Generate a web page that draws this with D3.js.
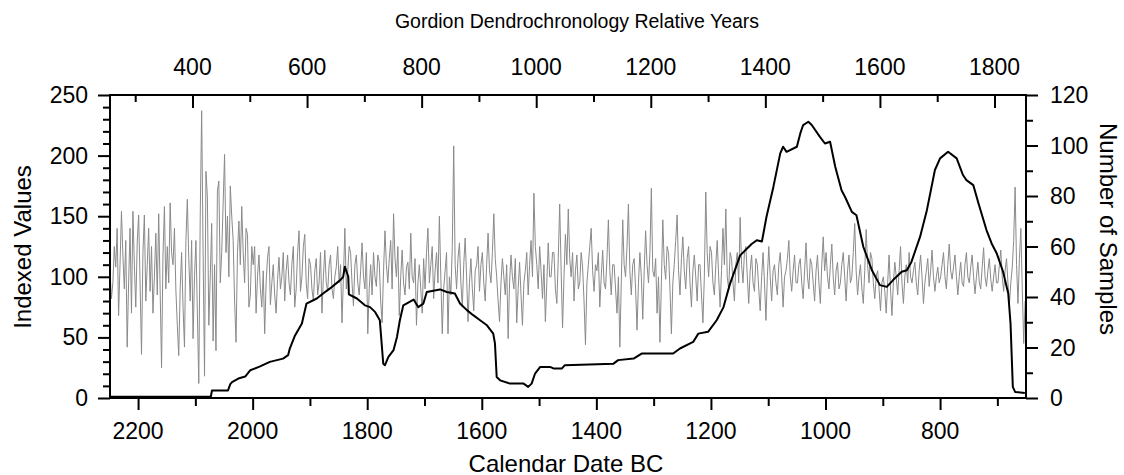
<!DOCTYPE html>
<html>
<head>
<meta charset="utf-8">
<script src="https://cdn.jsdelivr.net/npm/d3@7"></script>
<style>
  html, body { margin: 0; padding: 0; background: #fff; overflow: hidden; }
  svg { display: block; }
  .axis line { stroke: #000; stroke-width: 2; }
  .axis path { display: none; }
  .frame { fill: none; stroke: #000; stroke-width: 2; }
  .index-line { fill: none; stroke: #8a8a8a; stroke-width: 1; }
  .sample-line { fill: none; stroke: #000; stroke-width: 2; stroke-linejoin: round; }
</style>
</head>
<body>
<div id="chart"></div>
<script>
// Chart data
// Ring-width index, one value every 2.5 years starting 2249 BC
const indexStartYear = 2249;
const indexStepYears = 2.5;
const indexValues = [
  105, 82, 95, 125, 108, 140, 68, 110, 154, 118, 90, 130, 42, 95, 140, 70, 154, 110, 75, 128,
  151, 95, 36, 120, 151, 80, 110, 140, 88, 125, 70, 100, 136, 85, 152, 90, 25, 118, 158, 90,
  125, 95, 161, 120, 110, 140, 89, 60, 35, 90, 120, 75, 42, 130, 164, 115, 80, 130, 49, 100,
  130, 70, 12, 150, 237, 120, 18, 187, 166, 60, 100, 144, 47, 110, 39, 171, 179, 95, 120, 160,
  201, 120, 150, 100, 175, 150, 130, 80, 46, 120, 146, 110, 158, 120, 95, 140, 135, 75, 85, 125,
  110, 125, 70, 100, 118, 90, 75, 105, 53, 95, 116, 125, 77, 95, 110, 85, 70, 98, 116, 90,
  100, 120, 80, 105, 118, 95, 85, 110, 125, 75, 90, 120, 138, 88, 100, 125, 135, 95, 82, 115,
  110, 90, 80, 105, 115, 85, 95, 120, 70, 100, 122, 95, 88, 110, 118, 90, 82, 100, 108, 125,
  95, 110, 62, 100, 140, 90, 105, 125, 120, 95, 76, 110, 118, 95, 85, 105, 128, 100, 90, 120,
  53, 90, 110, 85, 120, 100, 92, 118, 112, 80, 62, 105, 138, 110, 95, 115, 130, 90, 152, 115,
  100, 125, 68, 100, 122, 95, 85, 108, 112, 90, 136, 100, 95, 115, 60, 95, 110, 90, 70, 115,
  90, 120, 140, 95, 110, 125, 82, 105, 120, 95, 150, 100, 53, 90, 105, 120, 53, 100, 85, 125,
  208, 110, 90, 115, 128, 95, 75, 110, 132, 100, 63, 95, 115, 90, 72, 105, 110, 125, 88, 110,
  120, 95, 80, 110, 136, 105, 95, 120, 152, 115, 100, 80, 63, 95, 115, 100, 85, 110, 49, 95,
  118, 100, 90, 115, 62, 90, 112, 85, 60, 95, 105, 120, 85, 110, 130, 100, 169, 125, 110, 90,
  125, 105, 82, 110, 63, 95, 128, 100, 100, 120, 120, 90, 78, 115, 160, 105, 58, 100, 135, 110,
  156, 115, 100, 120, 80, 105, 118, 90, 95, 120, 108, 80, 44, 95, 110, 125, 140, 105, 88, 110,
  105, 120, 75, 100, 122, 95, 90, 115, 147, 105, 85, 110, 110, 90, 70, 100, 42, 95, 147, 110,
  100, 125, 160, 105, 85, 110, 115, 90, 56, 95, 120, 100, 65, 105, 138, 110, 95, 120, 173, 105,
  100, 115, 70, 100, 46, 95, 147, 110, 98, 125, 120, 90, 53, 95, 110, 130, 151, 105, 85, 115,
  133, 105, 90, 115, 125, 95, 75, 105, 118, 100, 80, 110, 110, 85, 62, 100, 170, 120, 100, 125,
  120, 95, 85, 110, 130, 100, 75, 105, 140, 110, 156, 100, 90, 120, 115, 95, 80, 110, 120, 95,
  149, 110, 95, 120, 125, 100, 78, 105, 118, 95, 88, 115, 110, 90, 72, 100, 120, 95, 64, 100,
  125, 100, 80, 105, 110, 95, 85, 110, 120, 100, 75, 100, 105, 115, 130, 100, 88, 105, 118, 95,
  95, 110, 115, 95, 82, 105, 128, 100, 90, 115, 110, 95, 80, 105, 118, 95, 78, 110, 133, 105,
  120, 100, 90, 110, 127, 100, 85, 105, 112, 90, 95, 110, 120, 100, 80, 105, 118, 95, 100, 120,
  144, 105, 85, 100, 110, 90, 78, 105, 139, 110, 95, 120, 115, 95, 82, 100, 105, 90, 72, 95,
  100, 88, 70, 95, 118, 90, 68, 95, 112, 100, 85, 105, 125, 95, 78, 100, 110, 95, 120, 100,
  95, 105, 112, 95, 85, 105, 118, 100, 78, 95, 105, 115, 92, 105, 122, 100, 88, 100, 108, 95,
  100, 110, 120, 100, 90, 110, 127, 105, 98, 108, 118, 100, 85, 100, 112, 95, 92, 110, 120, 100,
  95, 108, 118, 100, 86, 100, 112, 95, 90, 108, 124, 100, 92, 105, 115, 98, 88, 100, 110, 95,
  95, 110, 122, 100, 88, 105, 115, 95, 77, 95, 108, 130, 174, 110, 78, 115, 140, 90, 45, 80
];

// Sample depth (number of samples) at break points
const sampleYears = [
  2249, 2073, 2071, 2043, 2039, 2036, 2025, 2013, 2004, 1987,
  1970, 1947, 1938, 1935, 1926, 1914, 1906, 1888, 1877, 1865,
  1853, 1847, 1842, 1839, 1833, 1832, 1818, 1804, 1795, 1786,
  1778, 1772, 1769, 1763, 1754, 1748, 1743, 1737, 1719, 1711,
  1702, 1696, 1673, 1661, 1647, 1638, 1626, 1615, 1603, 1591,
  1580, 1577, 1574, 1568, 1551, 1527, 1519, 1513, 1507, 1498,
  1481, 1475, 1460, 1455, 1370, 1362, 1335, 1321, 1266, 1254,
  1231, 1222, 1205, 1190, 1178, 1167, 1149, 1129, 1120, 1111,
  1103, 1091, 1079, 1074, 1068, 1050, 1044, 1039, 1030, 1024,
  1010, 1001, 992, 983, 972, 966, 954, 946, 934, 919,
  905, 893, 882, 867, 858, 850, 835, 823, 809, 800,
  786, 771, 760, 754, 742, 733, 719, 710, 701, 690,
  681, 677, 673, 669, 652
];
const sampleCounts = [
  0.5, 0.5, 3, 3, 5.5, 6.3, 7.7, 8.5, 11, 12.5,
  14.3, 15.6, 17, 19.7, 24.8, 29.5, 37.4, 39.4, 41.4, 43.4,
  45.6, 46.7, 48, 52, 48, 41, 39.4, 36.7, 36, 34,
  30.8, 13.6, 13, 16.3, 19, 24.2, 30.8, 36.7, 39, 36,
  37.4, 42, 43, 42, 41.4, 37.4, 34.8, 32.8, 30.8, 28.8,
  25.5, 21.6, 8.3, 7, 5.7, 5.7, 4.4, 5.7, 9.7, 12.3,
  12.3, 11.7, 11.7, 13, 13.6, 15, 15.6, 17.6, 17.6, 19.6,
  22.2, 25.5, 26.2, 30.8, 36, 45, 56.5, 61, 62.5, 62,
  71.8, 83.6, 96.9, 99.5, 97.5, 99.5, 104.8, 108.1, 109.4, 108.1,
  103.5, 100.8, 101.5, 91.6, 82.3, 79.7, 73.7, 72.4, 59.9, 50.6,
  44.7, 44, 46.7, 50, 50.6, 53.9, 63.8, 74.4, 90.3, 94.9,
  97.5, 94.9, 88.3, 86.3, 84.3, 77.1, 66.5, 61.2, 57.2, 50,
  41.4, 29.5, 4.4, 2.4, 2
];

// Tick labels
const bcTicks = [2200, 2000, 1800, 1600, 1400, 1200, 1000, 800];
const bcMinorTicks = [2100, 1900, 1700, 1500, 1300, 1100, 900, 700];
const relTicks = [400, 600, 800, 1000, 1200, 1400, 1600, 1800];
const relMinorTicks = [300, 500, 700, 900, 1100, 1300, 1500, 1700];
const indexTicks = [0, 50, 100, 150, 200, 250];
const indexMinorTicks = [10, 20, 30, 40, 60, 70, 80, 90, 110, 120, 130, 140, 160, 170, 180, 190, 210, 220, 230, 240];
const sampleTicks = [0, 20, 40, 60, 80, 100, 120];
const sampleMinorTicks = [10, 30, 50, 70, 90, 110];

// Relative year = relOffset - calendar year BC
const relOffset = 2505;

// Layout
const width = 1124;
const height = 475;
const margin = { top: 95, right: 98, bottom: 77, left: 110 };
const innerWidth = width - margin.left - margin.right;
const innerHeight = height - margin.top - margin.bottom;
const fontFamily = "'Liberation Sans', Arial, sans-serif";
const tickFont = 23;

// Scales
const bcDomain = [2249, 650];
const xScale = d3.scaleLinear().domain(bcDomain).range([0, innerWidth]);
const xTopScale = d3.scaleLinear()
  .domain(bcDomain.map(d => relOffset - d))
  .range([0, innerWidth]);
const yIndex = d3.scaleLinear().domain([0, 250]).range([innerHeight, 0]);
const ySamples = d3.scaleLinear().domain([0, 120]).range([innerHeight, 0]);

const svg = d3.select("#chart")
  .append("svg")
    .attr("width", width)
    .attr("height", height)
    .attr("viewBox", `0 0 ${width} ${height}`)
    .attr("font-family", fontFamily);

const innerChart = svg.append("g")
  .attr("transform", `translate(${margin.left}, ${margin.top})`);

innerChart.append("clipPath")
    .attr("id", "plot-clip")
  .append("rect")
    .attr("width", innerWidth)
    .attr("height", innerHeight);

// LINES
const indexData = indexValues.map((v, i) => ({ year: indexStartYear - i * indexStepYears, value: v }));
const sampleData = sampleYears.map((y, i) => ({ year: y, value: sampleCounts[i] }));

const lines = innerChart.append("g").attr("clip-path", "url(#plot-clip)");

lines.append("path")
  .datum(indexData)
  .attr("class", "index-line")
  .attr("d", d3.line()
    .x(d => xScale(d.year))
    .y(d => yIndex(d.value)));

lines.append("path")
  .datum(sampleData)
  .attr("class", "sample-line")
  .attr("d", d3.line()
    .x(d => xScale(d.year))
    .y(d => ySamples(d.value)));

// AXES (ticks only, labels are drawn below)
function tickAxis(axis, transform) {
  innerChart.append("g")
    .attr("class", "axis")
    .attr("transform", transform)
    .call(axis.tickFormat(""))
    .call(g => g.selectAll("text").remove());
}

const bottomT = `translate(0, ${innerHeight})`;
const rightT = `translate(${innerWidth}, 0)`;

tickAxis(d3.axisBottom(xScale).tickValues(bcTicks).tickSize(12), bottomT);
tickAxis(d3.axisBottom(xScale).tickValues(bcMinorTicks).tickSize(8), bottomT);
// Top ticks point inside the plot
tickAxis(d3.axisTop(xTopScale).tickValues(relTicks).tickSize(-13), null);
tickAxis(d3.axisTop(xTopScale).tickValues(relMinorTicks).tickSize(-7), null);
tickAxis(d3.axisLeft(yIndex).tickValues(indexTicks).tickSize(12), null);
tickAxis(d3.axisLeft(yIndex).tickValues(indexMinorTicks).tickSize(7), null);
tickAxis(d3.axisRight(ySamples).tickValues(sampleTicks).tickSize(12), rightT);
tickAxis(d3.axisRight(ySamples).tickValues(sampleMinorTicks).tickSize(7), rightT);

// Frame
innerChart.append("rect")
  .attr("class", "frame")
  .attr("width", innerWidth)
  .attr("height", innerHeight);

// TICK LABELS
const labels = svg.append("g")
  .attr("font-size", tickFont)
  .attr("fill", "#000");

labels.selectAll(".bc-label")
  .data(bcTicks)
  .join("text")
    .attr("class", "bc-label")
    .attr("x", d => margin.left + xScale(d))
    .attr("y", margin.top + innerHeight + 41)
    .attr("text-anchor", "middle")
    .text(d => d);

labels.selectAll(".rel-label")
  .data(relTicks)
  .join("text")
    .attr("class", "rel-label")
    .attr("x", d => margin.left + xTopScale(d))
    .attr("y", margin.top - 20)
    .attr("text-anchor", "middle")
    .text(d => d);

labels.selectAll(".index-label")
  .data(indexTicks)
  .join("text")
    .attr("class", "index-label")
    .attr("x", margin.left - 22)
    .attr("y", d => margin.top + yIndex(d) + 8)
    .attr("text-anchor", "end")
    .text(d => d);

labels.selectAll(".sample-label")
  .data(sampleTicks)
  .join("text")
    .attr("class", "sample-label")
    .attr("x", margin.left + innerWidth + 24)
    .attr("y", d => margin.top + ySamples(d) + 8)
    .attr("text-anchor", "start")
    .text(d => d);

// TITLES
svg.append("text")
  .attr("x", 577)
  .attr("y", 28)
  .attr("font-size", 19.5)
  .attr("text-anchor", "middle")
  .text("Gordion Dendrochronology Relative Years");

svg.append("text")
  .attr("x", 566)
  .attr("y", 472)
  .attr("font-size", 24)
  .attr("text-anchor", "middle")
  .text("Calendar Date BC");

svg.append("text")
  .attr("transform", "translate(31, 247) rotate(-90)")
  .attr("font-size", 24)
  .attr("text-anchor", "middle")
  .text("Indexed Values");

svg.append("text")
  .attr("transform", "translate(1100, 229) rotate(90)")
  .attr("font-size", 24)
  .attr("text-anchor", "middle")
  .text("Number of Samples");
</script>
</body>
</html>
